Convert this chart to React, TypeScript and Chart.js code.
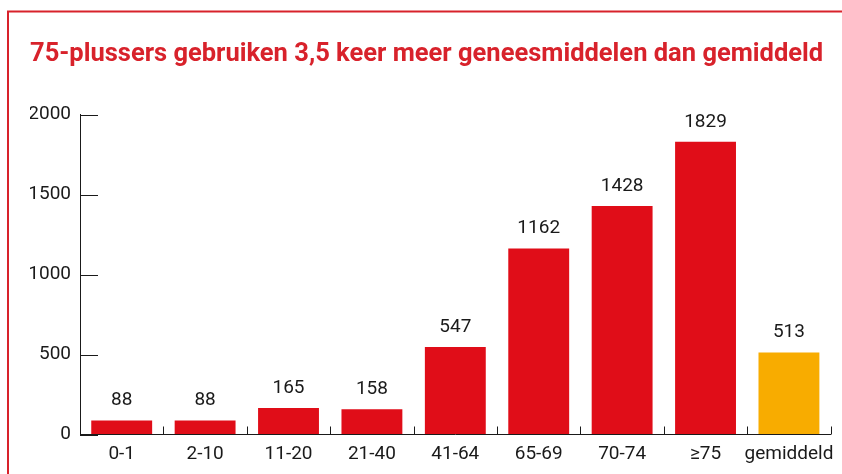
import React, { useEffect, useRef } from "react";
import { Chart, registerables } from "chart.js";

Chart.register(...registerables);

const categories = ["0-1", "2-10", "11-20", "21-40", "41-64", "65-69", "70-74", "≥75", "gemiddeld"];
const values = [88, 88, 165, 158, 547, 1162, 1428, 1829, 513];
const barColors = ["#e00d18", "#e00d18", "#e00d18", "#e00d18", "#e00d18", "#e00d18", "#e00d18", "#e00d18", "#f8ac00"];
const yTicks = [0, 500, 1000, 1500, 2000];
const titleText = "75-plussers gebruiken 3,5 keer meer geneesmiddelen dan gemiddeld";

const FRAME_RED = "#d8222b";
const INK = "#1a1a1a";
const FONT = "Roboto, 'Liberation Sans', sans-serif";

const framePlugin = {
  id: "frame",
  beforeDraw(chart: any) {
    const ctx = chart.ctx;
    ctx.save();
    ctx.fillStyle = "#ffffff";
    ctx.fillRect(0, 0, chart.width, chart.height);
    ctx.strokeStyle = FRAME_RED;
    ctx.lineWidth = 2;
    ctx.beginPath();
    ctx.moveTo(8, chart.height);
    ctx.lineTo(8, 11.5);
    ctx.lineTo(chart.width, 11.5);
    ctx.stroke();
    ctx.restore();
  },
};

const tickPlugin = {
  id: "innerTicks",
  afterDraw(chart: any) {
    const ctx = chart.ctx;
    const x = chart.scales.x;
    const y = chart.scales.y;
    const area = chart.chartArea;
    ctx.save();
    ctx.strokeStyle = INK;
    ctx.lineWidth = 1;
    ctx.beginPath();
    yTicks.forEach((v) => {
      const py = Math.round(y.getPixelForValue(v)) + 0.5;
      ctx.moveTo(area.left, py);
      ctx.lineTo(area.left + 18, py);
    });
    for (let i = 0; i < categories.length; i++) {
      const px = Math.round(x.getPixelForValue(i + 0.5)) + 0.5;
      ctx.moveTo(px, area.bottom);
      ctx.lineTo(px, area.bottom - 8);
    }
    ctx.stroke();

    // value labels
    const meta = chart.getDatasetMeta(0);
    ctx.fillStyle = INK;
    ctx.font = "19px " + FONT;
    ctx.textAlign = "center";
    ctx.textBaseline = "middle";
    meta.data.forEach((el: any, i: number) => {
      ctx.fillText(String(values[i]), el.x, el.y - 20);
    });
    ctx.restore();
  },
};

export default function App() {
  const ref = useRef<HTMLCanvasElement | null>(null);
  useEffect(() => {
    if (!ref.current) return;
    const chart = new Chart(ref.current, {
      type: "bar",
      data: {
        labels: categories,
        datasets: [
          {
            data: values,
            backgroundColor: barColors,
            borderWidth: 0,
            barPercentage: 0.73,
            categoryPercentage: 1,
          },
        ],
      },
      options: {
        animation: false,
        responsive: false,
        maintainAspectRatio: false,
        layout: { padding: { left: 30, right: 11.3, top: 0, bottom: 0 } },
        plugins: {
          legend: { display: false },
          tooltip: { enabled: false },
          title: {
            display: true,
            text: titleText,
            align: "start",
            color: FRAME_RED,
            font: { family: FONT, size: 25.5, weight: "bold", lineHeight: 1.2 },
            padding: { top: 39.5, bottom: 44.4 },
          },
        },
        scales: {
          x: {
            type: "category",
            offset: true,
            grid: { display: true, drawOnChartArea: false, drawTicks: false, color: "transparent" },
            border: { display: true, color: INK, width: 1 },
            ticks: { color: INK, font: { family: FONT, size: 19 }, padding: 8, maxRotation: 0, autoSkip: false },
            afterFit: (s: any) => {
              s.height = 39.5;
            },
          },
          y: {
            min: 0,
            max: 2000,
            afterBuildTicks: (s: any) => {
              s.ticks = yTicks.map((v) => ({ value: v }));
            },
            grid: { display: true, drawOnChartArea: false, drawTicks: false, color: "transparent" },
            border: { display: true, color: INK, width: 1 },
            ticks: { color: INK, font: { family: FONT, size: 19 }, padding: 9, callback: (v: any) => String(v) },
            afterFit: (s: any) => {
              s.width = 50;
            },
          },
        },
      },
      plugins: [framePlugin, tickPlugin],
    });
    return () => chart.destroy();
  }, []);
  return (
    <div style={{ position: "absolute", left: 0, top: 0, width: 842, height: 474 }}>
      <canvas ref={ref} width={842} height={474} style={{ width: 842, height: 474, display: "block" }} />
    </div>
  );
}
